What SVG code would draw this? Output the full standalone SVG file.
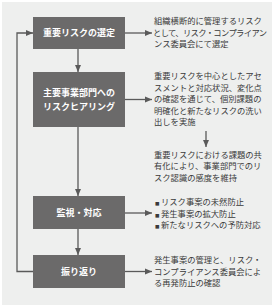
<svg xmlns="http://www.w3.org/2000/svg" width="272" height="305" viewBox="0 0 272 305">
<style>
.box{fill:#6b6a6a}
.bt{font-family:"Noto Sans CJK JP","Noto Sans CJK SC",sans-serif;font-size:9px;font-weight:700;fill:#ffffff;text-anchor:middle}
.tx{font-family:"Noto Sans CJK JP","Noto Sans CJK SC",sans-serif;font-size:8.3px;fill:#3a3a3a}
.ln{fill:none;stroke:#5a5a5a;stroke-width:1.3}
.sq{font-size:4.5px}
</style>
<defs>
<marker id="ah" markerUnits="userSpaceOnUse" markerWidth="7" markerHeight="7" viewBox="0 0 7 7" refX="7" refY="3.5" orient="auto">
<path d="M0,0.5 L7,3.5 L0,6.5 Z" fill="#5a5a5a"/>
</marker>
</defs>
<rect x="0" y="0" width="272" height="305" fill="#ffffff"/>
<rect x="2" y="2" width="270" height="303" fill="#eeefee"/>
<g id="connectors">
<path class="ln" d="M78,49 V72" marker-end="url(#ah)"/>
<path class="ln" d="M78,127 V196" marker-end="url(#ah)"/>
<path class="ln" d="M78,229 V255" marker-end="url(#ah)"/>
<path class="ln" d="M33,271.5 H17 V33 H33" marker-end="url(#ah)"/>
<path class="ln" d="M125,33 H152" marker-end="url(#ah)"/>
<path class="ln" d="M125,99.5 H152" marker-end="url(#ah)"/>
<path class="ln" d="M125,213 H152" marker-end="url(#ah)"/>
<path class="ln" d="M125,271.5 H152" marker-end="url(#ah)"/>
<path class="ln" d="M206,131 V147" marker-end="url(#ah)"/>
</g>
<g id="node-select">
<rect class="box" x="33" y="17" width="92" height="32"/>
<text class="bt" x="79" y="36.4">重要リスクの選定</text>
</g>
<g id="node-hearing">
<rect class="box" x="33" y="72" width="92" height="55"/>
<text class="bt" x="79" y="96.4">主要事業部門への</text>
<text class="bt" x="79" y="110.4">リスクヒアリング</text>
</g>
<g id="node-monitor">
<rect class="box" x="33" y="196" width="92" height="33"/>
<text class="bt" x="79" y="215.9">監視・対応</text>
</g>
<g id="node-review">
<rect class="box" x="33" y="255" width="92" height="33"/>
<text class="bt" x="79" y="274.9">振り返り</text>
</g>
<g id="desc-select">
<text class="tx" x="154" y="24.2">組織横断的に管理するリスク</text>
<text class="tx" x="153" y="35.7" textLength="114">として、リスク・コンプライアン</text>
<text class="tx" x="154" y="47.2">ンス委員会にて選定</text>
</g>
<g id="desc-hearing">
<text class="tx" x="154" y="79.2">重要リスクを中心としたアセ</text>
<text class="tx" x="154" y="90.7">スメントと対応状況、変化点</text>
<text class="tx" x="154" y="102.2">の確認を通じて、個別課題の</text>
<text class="tx" x="154" y="113.7">明確化と新たなリスクの洗い</text>
<text class="tx" x="154" y="125.2">出しを実施</text>
</g>
<g id="desc-share">
<text class="tx" x="154" y="157.7">重要リスクにおける課題の共</text>
<text class="tx" x="154" y="169.2">有化により、事業部門でのリ</text>
<text class="tx" x="154" y="180.7">スク認識の感度を維持</text>
</g>
<g id="desc-monitor">
<text class="tx" x="155" y="205.2"><tspan class="sq">■</tspan><tspan dx="1.5">リスク事案の未然防止</tspan></text>
<text class="tx" x="155" y="216.7"><tspan class="sq">■</tspan><tspan dx="1.5">発生事案の拡大防止</tspan></text>
<text class="tx" x="155" y="228.2"><tspan class="sq">■</tspan><tspan dx="1.5">新たなリスクへの予防対応</tspan></text>
</g>
<g id="desc-review">
<text class="tx" x="154" y="263.2">発生事案の管理と、リスク・</text>
<text class="tx" x="154" y="274.7">コンプライアンス委員会によ</text>
<text class="tx" x="154" y="286.2">る再発防止の確認</text>
</g>
</svg>
